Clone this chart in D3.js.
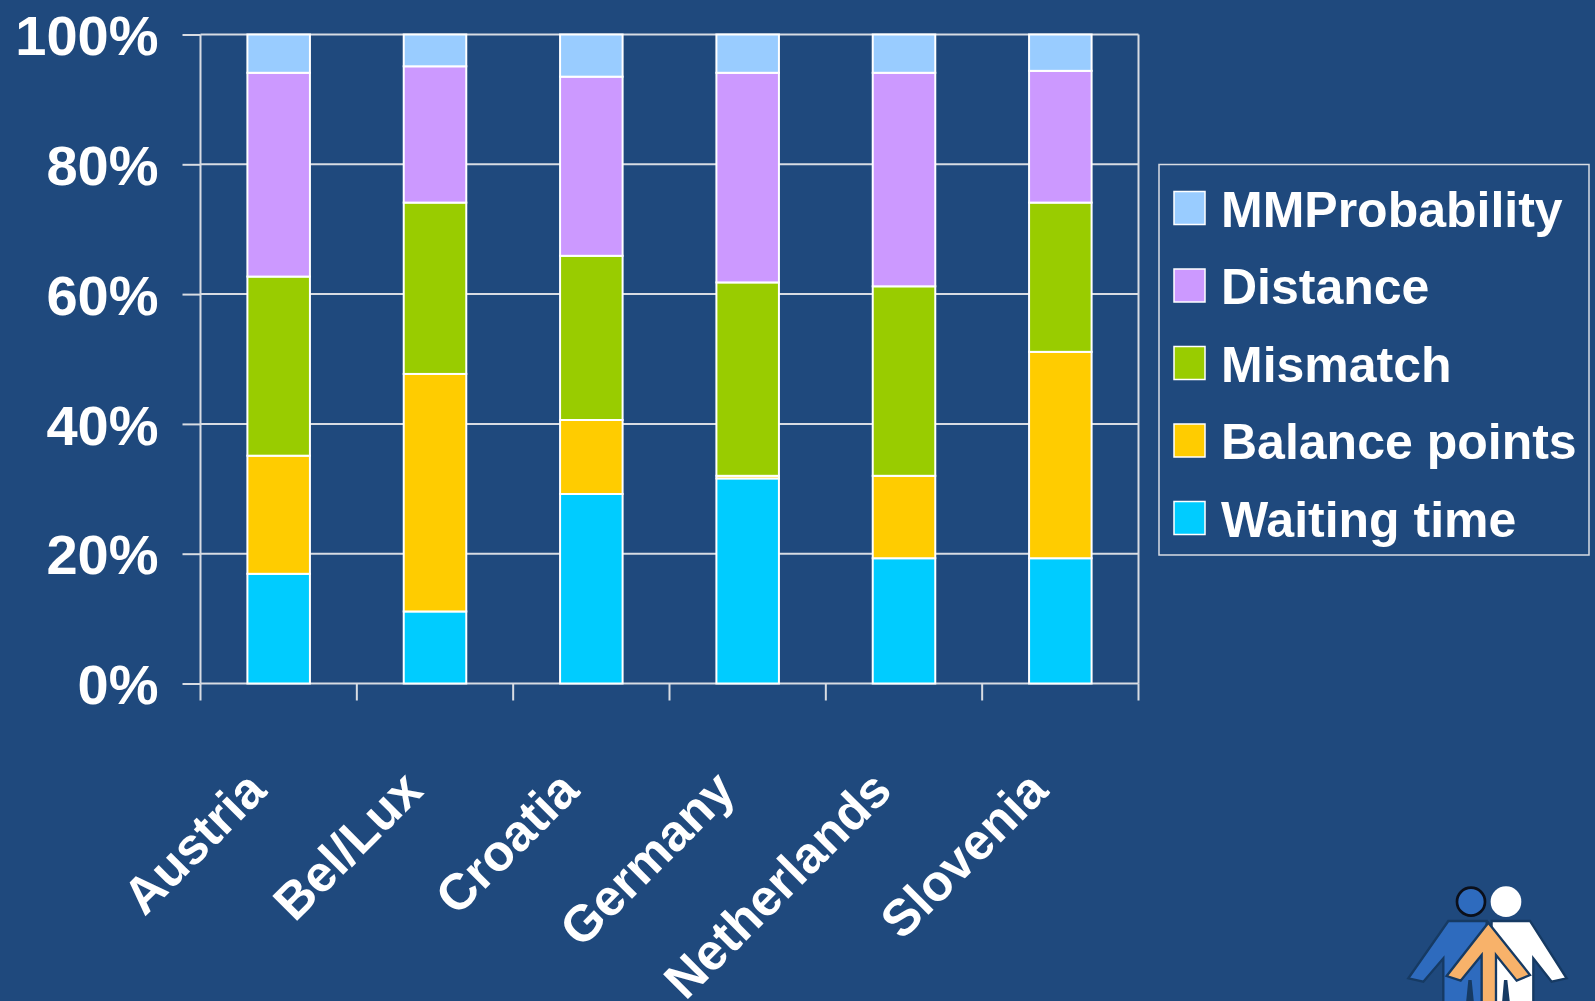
<!DOCTYPE html>
<html>
<head>
<meta charset="utf-8">
<script src="https://cdn.jsdelivr.net/npm/d3@7"></script>
<style>
  html, body { margin: 0; padding: 0; background: #1F497D; }
  svg { display: block; }
  text { font-family: "Liberation Sans", Arial, sans-serif; font-weight: bold; fill: #ffffff; }
</style>
</head>
<body>
<svg id="chart" width="1595" height="1001"></svg>
<script>
// Allocation point components by country (share of total, %)
const categories = ["Austria", "Bel/Lux", "Croatia", "Germany", "Netherlands", "Slovenia"];
const waitingTime   = [16.9, 11.1, 29.2, 31.6, 19.3, 19.3];
const balancePoints = [18.2, 36.6, 11.4, 0.4, 12.7, 31.8];
const mismatch      = [27.6, 26.4, 25.3, 29.8, 29.2, 23.0];
const distance      = [31.4, 21.0, 27.6, 32.3, 32.9, 20.3];
const mmProbability = [5.9, 4.9, 6.5, 5.9, 5.9, 5.6];

const seriesNames  = ["Waiting time", "Balance points", "Mismatch", "Distance", "MMProbability"];
const seriesColors = ["#00CCFF", "#FFCC00", "#99CC00", "#CC99FF", "#99CCFF"];
const yTickValues  = [0, 0.2, 0.4, 0.6, 0.8, 1.0];
const yTickLabels  = ["0%", "20%", "40%", "60%", "80%", "100%"];

const seriesValues = [waitingTime, balancePoints, mismatch, distance, mmProbability];
const rows = categories.map((c, i) => {
  const r = { category: c };
  seriesNames.forEach((s, j) => { r[s] = seriesValues[j][i]; });
  return r;
});

const svg = d3.select("#chart");
const plot = { left: 200.5, right: 1138.5, top: 34.5, bottom: 683.5 };

const x = d3.scaleBand()
  .domain(categories)
  .range([plot.left, plot.right])
  .paddingInner(0.6)
  .paddingOuter(0.3);

const y = d3.scaleLinear().domain([0, 1]).range([plot.bottom, plot.top]);

const color = d3.scaleOrdinal().domain(seriesNames).range(seriesColors);

const gridColor = "#D8DCE3";

// horizontal gridlines
svg.append("g")
  .selectAll("line")
  .data(yTickValues)
  .join("line")
  .attr("x1", plot.left).attr("x2", plot.right)
  .attr("y1", d => y(d)).attr("y2", d => y(d))
  .attr("stroke", gridColor).attr("stroke-width", 2);

// plot frame: left axis and right edge
svg.append("line")
  .attr("x1", plot.left).attr("x2", plot.left)
  .attr("y1", plot.top).attr("y2", plot.bottom)
  .attr("stroke", gridColor).attr("stroke-width", 2);
svg.append("line")
  .attr("x1", plot.right).attr("x2", plot.right)
  .attr("y1", plot.top).attr("y2", plot.bottom)
  .attr("stroke", gridColor).attr("stroke-width", 2);

// y axis ticks and labels
const yAxis = d3.axisLeft(y)
  .tickValues(yTickValues)
  .tickFormat((d, i) => yTickLabels[i])
  .tickSize(18)
  .tickPadding(24);
const gy = svg.append("g").attr("transform", `translate(${plot.left},0)`).call(yAxis);
gy.select(".domain").remove();
gy.selectAll(".tick line").attr("stroke", gridColor).attr("stroke-width", 2);
gy.selectAll(".tick text")
  .attr("fill", "#ffffff")
  .attr("font-size", 56)
  .attr("font-family", "Liberation Sans, Arial, sans-serif")
  .attr("font-weight", "bold")
  .attr("dy", "0.36em");

// x axis tick marks at category boundaries
const step = x.step();
const boundaries = d3.range(categories.length + 1).map(i => plot.left + i * step);
svg.append("g")
  .selectAll("line")
  .data(boundaries)
  .join("line")
  .attr("x1", d => d).attr("x2", d => d)
  .attr("y1", plot.bottom).attr("y2", plot.bottom + 17)
  .attr("stroke", gridColor).attr("stroke-width", 2);

// stacked 100% bars
const stacked = d3.stack().keys(seriesNames).offset(d3.stackOffsetExpand)(rows);
svg.append("g")
  .selectAll("g")
  .data(stacked)
  .join("g")
  .attr("fill", d => color(d.key))
  .selectAll("rect")
  .data(d => d)
  .join("rect")
  .attr("x", d => x(d.data.category))
  .attr("width", x.bandwidth())
  .attr("y", d => y(d[1]))
  .attr("height", d => y(d[0]) - y(d[1]))
  .attr("stroke", "#ffffff")
  .attr("stroke-width", 2);

// rotated category labels
svg.append("g")
  .selectAll("text")
  .data(categories)
  .join("text")
  .attr("text-anchor", "end")
  .attr("font-size", 51)
  .attr("transform", d => `translate(${x(d) + x.bandwidth() / 2 - 10},793) rotate(-45)`)
  .text(d => d);

// legend
const legend = svg.append("g");
legend.append("rect")
  .attr("x", 1159).attr("y", 164.5)
  .attr("width", 430).attr("height", 390.5)
  .attr("fill", "none")
  .attr("stroke", gridColor).attr("stroke-width", 1.5);

const legendOrder = seriesNames.slice().reverse();
const items = legend.selectAll("g.item")
  .data(legendOrder)
  .join("g")
  .attr("class", "item")
  .attr("transform", (d, i) => `translate(0,${i * 77.5})`);
items.append("rect")
  .attr("x", 1174).attr("y", 191.5)
  .attr("width", 31).attr("height", 33)
  .attr("fill", d => color(d))
  .attr("stroke", "#ffffff").attr("stroke-width", 1.5);
items.append("text")
  .attr("x", 1221)
  .attr("y", 226.5)
  .attr("font-size", 50)
  .text(d => d);

// emblem: three figures
const emblem = svg.append("g")
  .attr("transform", "translate(1380,860) scale(0.3333)")
  .attr("stroke", "#163A63")
  .attr("stroke-width", 7)
  .attr("stroke-linejoin", "miter");
emblem.append("path")
  .attr("fill", "#2E6BBE")
  .attr("d", "M205,183 L320,183 L320,430 L190,430 L190,295 L130,365 L85,355 Z");
emblem.append("path")
  .attr("fill", "#ffffff")
  .attr("d", "M335,183 L450,183 L560,355 L515,365 L460,295 L460,430 L330,430 Z");
emblem.append("path")
  .attr("fill", "#F8B26A")
  .attr("d", "M325,188 L450,345 L410,362 L348,285 L348,430 L305,430 L305,285 L242,362 L200,348 Z");
emblem.append("path")
  .attr("fill", "#163A63").attr("stroke", "none")
  .attr("d", "M265,360 L275,360 L282,430 L258,430 Z M372,360 L382,360 L390,430 L366,430 Z");
emblem.append("circle")
  .attr("cx", 273).attr("cy", 125).attr("r", 42)
  .attr("fill", "#2E6BBE").attr("stroke", "#0b0f1a").attr("stroke-width", 8);
emblem.append("circle")
  .attr("cx", 378).attr("cy", 125).attr("r", 46)
  .attr("fill", "#ffffff").attr("stroke", "none");
</script>
</body>
</html>
